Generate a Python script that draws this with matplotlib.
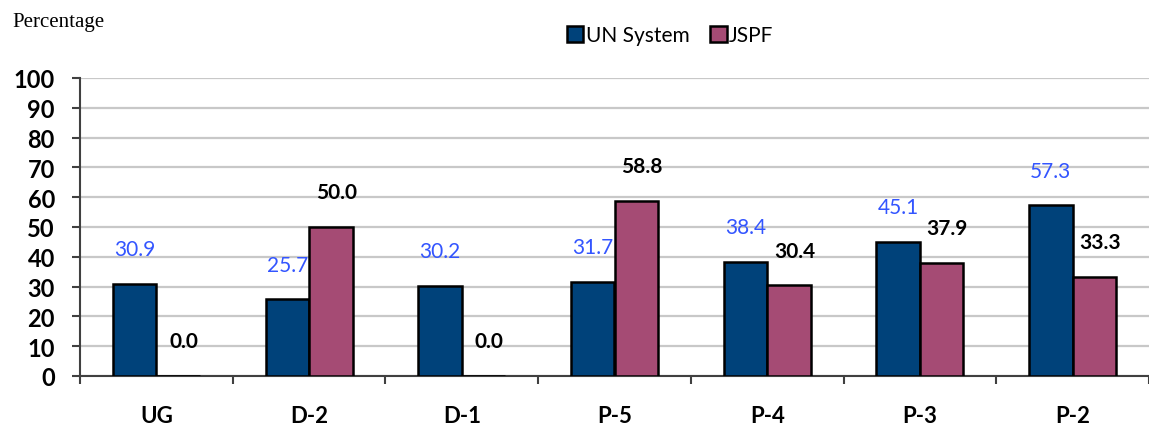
import matplotlib
matplotlib.use("Agg")
import matplotlib.pyplot as plt
import numpy as np

categories = ["UG", "D-2", "D-1", "P-5", "P-4", "P-3", "P-2"]
un_system = [30.9, 25.7, 30.2, 31.7, 38.4, 45.1, 57.3]
jspf = [0.0, 50.0, 0.0, 58.8, 30.4, 37.9, 33.3]
series_names = ["UN System", "JSPF"]
yticks = [0, 10, 20, 30, 40, 50, 60, 70, 80, 90, 100]

blue = "#00427A"
pink = "#A54B74"
label_blue = "#3355FF"
font = "Lato"

W, H = 1149, 427
fig = plt.figure(figsize=(W / 100, H / 100), dpi=100)
ax = fig.add_axes([80 / W, (H - 377) / H, (W - 80) / W, 298 / H])

x = np.arange(len(categories))
bw = 0.285
b1 = ax.bar(x - bw / 2, un_system, bw, color=blue, edgecolor="black", linewidth=1.8, zorder=3, label=series_names[0])
b2 = ax.bar(x + bw / 2, jspf, bw, color=pink, edgecolor="black", linewidth=1.8, zorder=3, label=series_names[1])

for xi, v in zip(x, un_system):
    ax.annotate(f"{v:.1f}", (xi - bw / 2, v), xytext=(0, 25), textcoords="offset points",
                ha="center", va="center", color=label_blue, fontsize=15, family=font)
for xi, v in zip(x, jspf):
    ax.annotate(f"{v:.1f}", (xi + bw / 2, v), xytext=(4, 25), textcoords="offset points",
                ha="center", va="center", color="black", fontsize=15, family=font, fontweight="bold")

ax.set_ylim(0, 100)
ax.set_xlim(-0.5, -0.5 + (W - 80) / 155)
ax.set_yticks(yticks)
ax.set_yticklabels([str(t) for t in yticks], fontsize=17, fontweight="bold", family=font)
ax.tick_params(axis="y", length=6, width=1.5, color="#404040", pad=12, direction="out")

ax.set_xticks(np.arange(len(categories) + 1) - 0.5)
ax.set_xticklabels([])
ax.set_xticks(x, minor=True)
ax.set_xticklabels(categories, minor=True, fontsize=16, fontweight="bold", family=font)
ax.tick_params(axis="x", which="major", length=6, width=1.5, color="#404040", direction="out")
ax.tick_params(axis="x", which="minor", length=0, pad=21)

ax.grid(axis="y", color="#C8C8C8", linewidth=1.6, zorder=0)
ax.set_axisbelow(True)
for s in ["top", "right"]:
    ax.spines[s].set_visible(False)
for s in ["left", "bottom"]:
    ax.spines[s].set_color("#404040")
    ax.spines[s].set_linewidth(1.5)

leg = fig.legend(handles=[b1, b2], labels=series_names, loc="center", bbox_to_anchor=(670 / W, 1 - 36 / H),
                 ncol=2, frameon=False, prop={"family": font, "size": 15},
                 handlelength=0.8, handleheight=0.8, handletextpad=0.1, columnspacing=1.0)

fig.text(12 / W, 1 - 23 / H, "Percentage", family="Liberation Serif", fontsize=15, ha="left", va="center")

fig.savefig("out.png", dpi=100)
